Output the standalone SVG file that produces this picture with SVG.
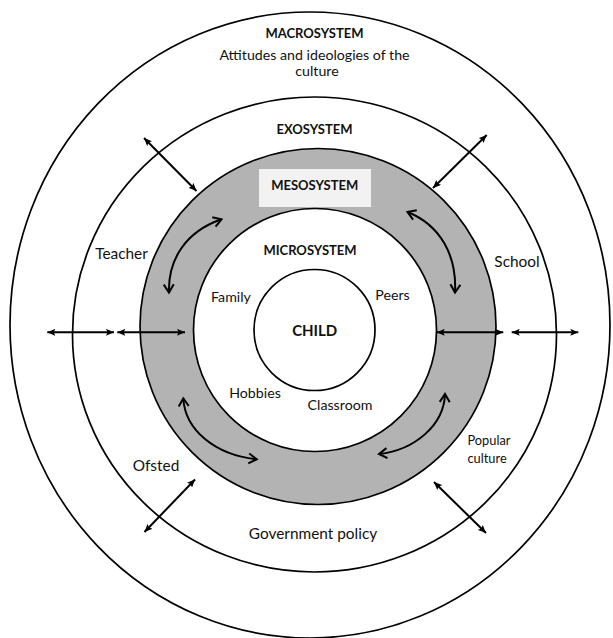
<svg xmlns="http://www.w3.org/2000/svg" width="613" height="638" viewBox="0 0 613 638">
  <defs>
    <style>
      .ring { fill: #ffffff; stroke: #000000; stroke-width: 1.7; }
      .band { fill: #b3b3b3; stroke: #000000; stroke-width: 1.7; }
      .tag { fill: #f2f2f2; }
      .hd { font-family: Lato, "Open Sans", "Liberation Sans", sans-serif; font-weight: 700; font-size: 13px; text-anchor: middle; fill: #111111; }
      .lb { font-family: Lato, "Open Sans", "Liberation Sans", sans-serif; font-size: 15.4px; text-anchor: middle; fill: #111111; }
      .sm { font-size: 14.2px; }
      .xs { font-size: 12.8px; text-anchor: start; }
      .link { fill: none; stroke: #000000; stroke-width: 2; }
      .straight { marker-start: url(#tri); marker-end: url(#tri); }
      .curve { marker-start: url(#chev); marker-end: url(#chev); }
    </style>
    <marker id="tri" viewBox="0 0 10 10" refX="10" refY="5" markerWidth="8" markerHeight="7" preserveAspectRatio="none" markerUnits="userSpaceOnUse" orient="auto-start-reverse">
      <path d="M0,0 L10,5 L0,10 L2,5 z" fill="#000000"/>
    </marker>
    <marker id="chev" viewBox="-10 -6 12 12" refX="0" refY="0" markerWidth="12" markerHeight="12" markerUnits="userSpaceOnUse" orient="auto-start-reverse" overflow="visible">
      <path d="M-8,-5 L0,0 L-8,5" fill="none" stroke="#000000" stroke-width="2" stroke-linejoin="miter"/>
    </marker>
  </defs>

  <rect width="613" height="638" fill="#ffffff"/>

  <!-- outermost layer -->
  <g id="macrosystem">
    <ellipse class="ring" cx="310" cy="325" rx="300" ry="313"/>
    <text class="hd" x="314.5" y="38">MACROSYSTEM</text>
    <text class="lb sm" x="314.5" y="60">Attitudes and ideologies of the</text>
    <text class="lb sm" x="317" y="75.5">culture</text>
  </g>

  <!-- second layer -->
  <g id="exosystem">
    <ellipse class="ring" cx="314.5" cy="334.5" rx="242" ry="237.5"/>
    <text class="hd" x="314.5" y="134">EXOSYSTEM</text>
    <text class="lb" x="121.5" y="259">Teacher</text>
    <text class="lb" x="517" y="267">School</text>
    <text class="lb" x="156" y="471">Ofsted</text>
    <text class="lb xs" x="467.5" y="445">Popular</text>
    <text class="lb xs" x="467.5" y="463">culture</text>
    <text class="lb" x="313" y="538.5">Government policy</text>
  </g>

  <!-- shaded band -->
  <g id="mesosystem">
    <circle class="band" cx="318" cy="326.5" r="178"/>
    <rect class="tag" x="259" y="169" width="112" height="38"/>
    <text class="hd" x="314.7" y="190">MESOSYSTEM</text>
  </g>

  <!-- inner layer -->
  <g id="microsystem">
    <circle class="ring" cx="315" cy="330" r="121.5"/>
    <text class="hd" x="310" y="255">MICROSYSTEM</text>
    <text class="lb sm" x="231" y="301.5">Family</text>
    <text class="lb sm" x="392.5" y="300">Peers</text>
    <text class="lb sm" x="255" y="397.5">Hobbies</text>
    <text class="lb sm" x="340" y="410">Classroom</text>
  </g>

  <!-- centre -->
  <g id="child">
    <circle class="ring" cx="314.5" cy="330" r="60.5"/>
    <text class="hd" x="314.7" y="335.5" style="font-size:15px">CHILD</text>
  </g>

  <!-- two-way influences -->
  <g id="connectors">
    <path class="link straight" d="M144,138 L196.5,191"/>
    <path class="link straight" d="M486.7,135 L433,188"/>
    <path class="link straight" d="M144.5,532 L195,479.5"/>
    <path class="link straight" d="M434,482 L486,533"/>
    <path class="link straight" d="M47.3,332.3 L114,332.3"/>
    <path class="link straight" d="M117.3,332.3 L185,332.3"/>
    <path class="link straight" d="M436.7,332.3 L503.3,332.3"/>
    <path class="link straight" d="M511.7,332.3 L578.3,332.3"/>
    <path class="link curve" d="M169,292.5 C168,260 185,232 221.5,219.3"/>
    <path class="link curve" d="M407.5,212 C440,225 457,255 455,292.5"/>
    <path class="link curve" d="M183.3,398.3 C185,430 215,455 256.7,459.3"/>
    <path class="link curve" d="M445,394 C444,425 415,450 379,454"/>
  </g>
</svg>
